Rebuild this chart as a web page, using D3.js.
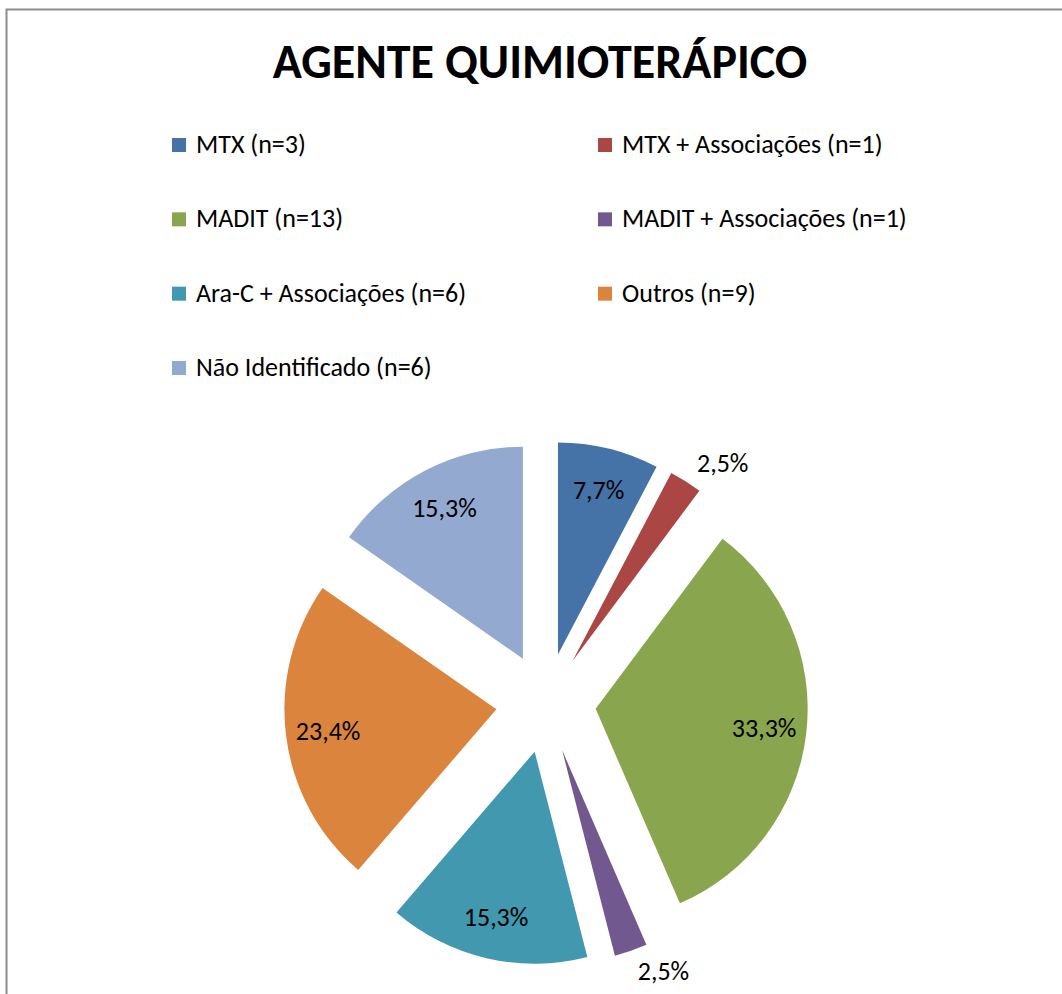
<!DOCTYPE html>
<html>
<head>
<meta charset="utf-8">
<script src="https://cdn.jsdelivr.net/npm/d3@7"></script>
<style>
  body { margin: 0; background: #fff; }
  svg { display: block; font-family: Carlito, Calibri, Lato, "Open Sans", sans-serif; }
</style>
</head>
<body>
<div id="chart"></div>
<script>
// Dados do gráfico
const categorias = ["MTX (n=3)", "MTX + Associações (n=1)", "MADIT (n=13)", "MADIT + Associações (n=1)",
                    "Ara-C + Associações (n=6)", "Outros (n=9)", "Não Identificado (n=6)"];
const percentuais = [7.7, 2.5, 33.3, 2.5, 15.3, 23.4, 15.3];
const rotulos = ["7,7%", "2,5%", "33,3%", "2,5%", "15,3%", "23,4%", "15,3%"];
const cores = ["#4572A7", "#AA4643", "#89A54E", "#71588F", "#4198AF", "#DB843D", "#93A9CF"];

const W = 1062, H = 994;
const svg = d3.select("#chart").append("svg")
    .attr("width", W)
    .attr("height", H);

// Borda (só aparece em cima e à esquerda)
svg.append("path")
    .attr("d", `M6.5,${H + 5} L6.5,9.5 L${W + 5},9.5`)
    .attr("fill", "none")
    .attr("stroke", "#8c8c8c")
    .attr("stroke-width", 2);

// Título
svg.append("text")
    .attr("x", 540)
    .attr("y", 78)
    .attr("text-anchor", "middle")
    .attr("font-size", "48px")
    .attr("font-weight", "900")
    .text("AGENTE QUIMIOTERÁPICO");

// Legenda em duas colunas
const legX = d3.scaleOrdinal().domain([0, 1]).range([172, 598]);
const legY = d3.scalePoint().domain(d3.range(4)).range([145, 368]);

const leg = svg.append("g").selectAll("g")
    .data(categorias)
    .join("g")
    .attr("transform", (d, i) => `translate(${legX(i % 2)},${legY(Math.floor(i / 2))})`);

leg.append("rect")
    .attr("x", 0)
    .attr("y", -7)
    .attr("width", 14)
    .attr("height", 14)
    .attr("fill", (d, i) => cores[i]);

leg.append("text")
    .attr("x", 24)
    .attr("y", -1)
    .attr("dominant-baseline", "central")
    .attr("font-size", "26px")
    .text(d => d);

// Pizza explodida
const cx = 546, cy = 703;
const raio = 212, explosao = 50;

const pie = d3.pie().sort(null).value(d => d);
const arcs = pie(percentuais);
const arc = d3.arc().innerRadius(0).outerRadius(raio);

const g = svg.append("g").attr("transform", `translate(${cx},${cy})`);

function desloc(a, dist) {
    const m = (a.startAngle + a.endAngle) / 2;
    return [Math.sin(m) * dist, -Math.cos(m) * dist];
}

g.selectAll("path")
    .data(arcs)
    .join("path")
    .attr("d", arc)
    .attr("fill", (d, i) => cores[i])
    .attr("transform", d => `translate(${desloc(d, explosao)})`);

// Rótulos de percentagem (fatias pequenas ficam de fora)
const lado = d => Math.sin((d.startAngle + d.endAngle) / 2) >= 0;
g.selectAll("text")
    .data(arcs)
    .join("text")
    .attr("transform", d => {
        const fora = d.value < 5;
        const p = desloc(d, explosao + (fora ? raio * 1.1 : raio * 0.8));
        return `translate(${p})`;
    })
    .attr("text-anchor", d => d.value < 5 ? (lado(d) ? "start" : "end") : "middle")
    .attr("dominant-baseline", "central")
    .attr("font-size", "26px")
    .attr("fill", "#000")
    .text((d, i) => rotulos[i]);
</script>
</body>
</html>
